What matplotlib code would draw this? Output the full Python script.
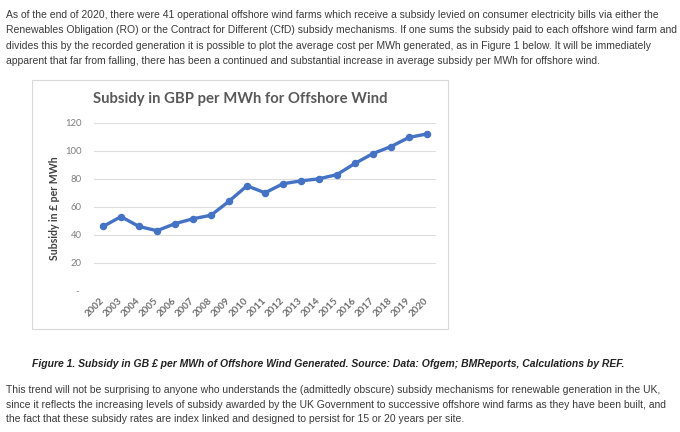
import matplotlib
matplotlib.use("Agg")
import matplotlib.pyplot as plt
from matplotlib.patches import Rectangle

# data
years = [str(y) for y in range(2002, 2021)]
subsidy = [46, 53, 46, 43, 48, 51.5, 54, 64, 75, 70,
           76.5, 78.5, 80, 83, 91, 98, 103, 109.5, 112]
y_ticks = [0, 20, 40, 60, 80, 100, 120]
y_tick_labels = ["- ", "20", "40", "60", "80", "100", "120"]

chart_title = "Subsidy in GBP per MWh for Offshore Wind"
y_label = "Subsidy in £ per MWh"

intro = [
    "As of the end of 2020, there were 41 operational offshore wind farms which receive a subsidy levied on consumer electricity bills via either the",
    "Renewables Obligation (RO) or the Contract for Different (CfD) subsidy mechanisms. If one sums the subsidy paid to each offshore wind farm and",
    "divides this by the recorded generation it is possible to plot the average cost per MWh generated, as in Figure 1 below. It will be immediately",
    "apparent that far from falling, there has been a continued and substantial increase in average subsidy per MWh for offshore wind.",
]
caption = "Figure 1. Subsidy in GB £ per MWh of Offshore Wind Generated. Source: Data: Ofgem; BMReports, Calculations by REF."
outro = [
    "This trend will not be surprising to anyone who understands the (admittedly obscure) subsidy mechanisms for renewable generation in the UK,",
    "since it reflects the increasing levels of subsidy awarded by the UK Government to successive offshore wind farms as they have been built, and",
    "the fact that these subsidy rates are index linked and designed to persist for 15 or 20 years per site.",
]

W, H = 680, 432
fig = plt.figure(figsize=(W / 100, H / 100), dpi=100)
fig.patch.set_facecolor("white")


def px(x, y):
    """pixel coords (top-left origin) -> figure fraction"""
    return x / W, 1 - y / H


# page text
txt_color = "#3a3a3a"
fs_page = 7.5
for i, line in enumerate(intro):
    fig.text(*px(6, 15 + i * 15.4), line, fontsize=fs_page, family="Liberation Sans",
             color=txt_color, va="center", ha="left")
fig.text(*px(32, 364), caption, fontsize=fs_page, family="Liberation Sans",
         weight="bold", style="italic", color="#222222", va="center", ha="left")
for i, line in enumerate(outro):
    fig.text(*px(6, 390 + i * 14.6), line, fontsize=fs_page, family="Liberation Sans",
             color=txt_color, va="center", ha="left")

# chart frame
x0, y0 = px(32, 329)
x1, y1 = px(448, 80)
fig.patches.append(Rectangle((x0, y0), x1 - x0, y1 - y0, transform=fig.transFigure,
                             facecolor="white", edgecolor="#d9d9d9", lw=0.8, zorder=0))

# plot area
left, top = px(94, 122.7)
right, bottom = px(436, 291)
ax = fig.add_axes([left, bottom, right - left, top - bottom])
ax.set_facecolor("none")
ax.set_zorder(2)

ax.plot(years, subsidy, color="#4472C4", lw=2.4, marker="o", markersize=4.4,
        solid_joinstyle="round", zorder=3)

ax.set_xlim(-0.5, len(years) - 0.5)
ax.set_ylim(0, 120)
ax.set_yticks(y_ticks)
ax.set_yticklabels(y_tick_labels, family="Lato", fontsize=6.8, color="#7f7f7f")
ax.grid(axis="y", color="#dedede", lw=0.8)
ax.set_axisbelow(True)
for s in ax.spines.values():
    s.set_visible(False)
ax.tick_params(axis="both", length=0)
ax.tick_params(axis="y", pad=9)
ax.tick_params(axis="x", pad=6)

for lab in ax.get_xticklabels():
    lab.set_rotation(45)
    lab.set_ha("right")
    lab.set_va("center")
    lab.set_rotation_mode("anchor")
    lab.set_family("Lato")
    lab.set_weight("bold")
    lab.set_fontsize(7)
    lab.set_color("#6e6e6e")

fig.text(*px(93, 99), chart_title, family="Lato", weight="bold", fontsize=10.7,
         color="#595959", ha="left", va="center", zorder=3)
fig.text(*px(55, 208), y_label, family="Lato", weight="bold", fontsize=7.6,
         color="#404040", rotation=90, ha="center", va="center", zorder=3)

fig.savefig("out.png", dpi=100)
